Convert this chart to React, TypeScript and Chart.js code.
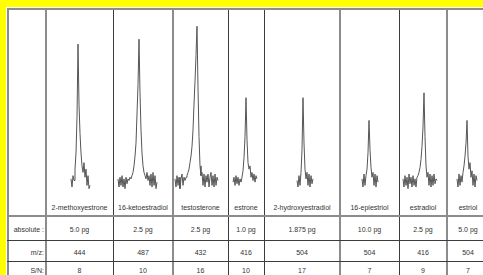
import React, { useEffect, useRef } from "react";
import { Chart, registerables } from "chart.js";

Chart.register(...registerables);

// ---------- data ----------
const compounds = [
  "2-methoxyestrone",
  "16-ketoestradiol",
  "testosterone",
  "estrone",
  "2-hydroxyestradiol",
  "16-epiestriol",
  "estradiol",
  "estriol",
];
const absoluteAmounts = ["5.0 pg", "2.5 pg", "2.5 pg", "1.0 pg", "1.875 pg", "10.0 pg", "2.5 pg", "5.0 pg"];
const mzValues = ["444", "487", "432", "416", "504", "504", "416", "504"];
const snValues = ["8", "10", "16", "10", "17", "7", "9", "7"];
const rowLabels = ["absolute :", "m/z:", "S/N:"];

// first scan number of each trace within its column window
const firstScan = [25, 5, 2, 5, 33, 22, 4, 10];

// relative intensity (%) per scan
const methoxyestroneTrace = [2, -3, 4, 1, 8, 18, 40, 85, 48, 30, 18, 10, 6, 12, 3, 8, -2, 4, -4, -2];
const ketoestradiolTrace = [2, -3, 3, -2, 4, -3, 2, -4, 3, -1, 2, 1, 3, 2, 4, 6, 10, 16, 24, 42, 60, 88, 55, 32, 18, 10, 6, 4, 2, 6, 1, 4, -2, 5, -3, 6, -2, 4, -4, 0];
const testosteroneTrace = [2, -3, 4, -2, 3, -4, 2, 5, -2, 3, 1, 3, 4, 6, 8, 12, 16, 22, 32, 48, 62, 78, 96, 58, 28, 10, 4, 6, -2, 5, -3, 4, 0, 5, -3, 3, 6, -2, 4, -3, 5, -2, 3, 1];
const estroneTrace = [0, 3, -2, 4, -1, 3, -2, 2, 0, 3, 7, 15, 28, 52, 26, 12, 8, 10, 3, 6, 1, 5, 0, 4, 2];
const hydroxyestradiolTrace = [1, -3, 4, -2, 6, 20, 52, 24, 8, 2, 6, -2, 5, -3, 4, -1, 2];
const epiestriolTrace = [2, -3, 5, -2, 4, 8, 18, 38, 20, 9, 3, 6, -2, 5, -3, 4, 0];
const estradiolTrace = [2, -3, 4, -2, 3, -4, 5, -1, 3, -3, 4, -2, 2, -3, 3, 4, 6, 9, 14, 22, 34, 55, 28, 10, 3, 6, -2, 5, -3, 4, -2, 5, -1, 2, 1];
const estriolTrace = [2, -3, 5, -2, 4, 0, 6, 10, 16, 24, 38, 16, 8, 12, 3, 7, -2, 5, -3, 4, 1];

const traces = [
  methoxyestroneTrace,
  ketoestradiolTrace,
  testosteroneTrace,
  estroneTrace,
  hydroxyestradiolTrace,
  epiestriolTrace,
  estradiolTrace,
  estriolTrace,
];

// ---------- layout ----------
const colEdges = [7, 46, 113, 173, 228, 264, 340, 399, 447, 489];
const GRAY = "#8c8c8c";
const DARK = "#3c3c3c";
const vLines = [
  { x: 7, w: 2, c: GRAY },
  { x: 45, w: 2, c: GRAY },
  { x: 113, w: 1, c: DARK },
  { x: 172, w: 2, c: GRAY },
  { x: 228, w: 1, c: DARK },
  { x: 264, w: 1, c: DARK },
  { x: 339, w: 2, c: GRAY },
  { x: 399, w: 1, c: DARK },
  { x: 446, w: 2, c: GRAY },
];
const hLines = [
  { y: 8, h: 2, c: GRAY },
  { y: 215, h: 2, c: GRAY },
  { y: 240, h: 1, c: DARK },
  { y: 261, h: 1, c: DARK },
];
const CHART_TOP = 10;
const CHART_H = 190;
const FONT = "'Liberation Sans', Arial, sans-serif";

function Trace({ idx, left, width }: { idx: number; left: number; width: number }) {
  const ref = useRef<HTMLCanvasElement>(null);
  useEffect(() => {
    const pts = traces[idx].map((v, i) => ({ x: firstScan[idx] + i, y: v }));
    const chart = new Chart(ref.current as HTMLCanvasElement, {
      type: "line",
      data: {
        datasets: [
          {
            data: pts,
            borderColor: "#555555",
            borderWidth: 1,
            pointRadius: 0,
            tension: 0,
            fill: false,
          },
        ],
      },
      options: {
        animation: false,
        responsive: false,
        maintainAspectRatio: false,
        events: [],
        layout: { padding: 0 },
        plugins: { legend: { display: false }, tooltip: { enabled: false } },
        scales: {
          x: { type: "linear", display: false, min: 0, max: width },
          y: { type: "linear", display: false, min: -11, max: 106 },
        },
      },
    });
    return () => chart.destroy();
  }, [idx, width]);
  return (
    <canvas
      ref={ref}
      width={width}
      height={CHART_H}
      style={{ position: "absolute", left, top: CHART_TOP, width, height: CHART_H }}
    />
  );
}

function Txt({ left, width, cy, text, align }: { left: number; width: number; cy: number; text: string; align: "center" | "right" }) {
  return (
    <div
      style={{
        position: "absolute",
        left,
        width,
        top: cy - 5,
        height: 10,
        lineHeight: "10px",
        fontSize: 7,
        fontFamily: FONT,
        color: "#333333",
        textAlign: align,
        whiteSpace: "nowrap",
      }}
    >
      {text}
    </div>
  );
}

export default function App() {
  const rows = [absoluteAmounts, mzValues, snValues];
  const rowCy = [230, 252.5, 270.5];
  return (
    <div style={{ position: "fixed", left: 0, top: 0, right: 0, bottom: 0, background: "#ffff00", overflow: "hidden" }}>
      <div style={{ position: "absolute", left: 6, top: 7, width: 500, height: 300, background: "#ffffff" }} />
      {compounds.map((_, i) => (
        <Trace key={"t" + i} idx={i} left={colEdges[i + 1]} width={colEdges[i + 2] - colEdges[i + 1]} />
      ))}
      {compounds.map((name, i) => (
        <Txt key={"n" + i} left={colEdges[i + 1]} width={colEdges[i + 2] - colEdges[i + 1]} cy={208} text={name} align="center" />
      ))}
      {rowLabels.map((lab, r) => (
        <Txt key={"l" + r} left={7} width={37} cy={rowCy[r]} text={lab} align="right" />
      ))}
      {rows.map((vals, r) =>
        vals.map((v, i) => (
          <Txt key={"v" + r + "-" + i} left={colEdges[i + 1]} width={colEdges[i + 2] - colEdges[i + 1]} cy={rowCy[r]} text={v} align="center" />
        ))
      )}
      {vLines.map((l, i) => (
        <div key={"vl" + i} style={{ position: "absolute", left: l.x, top: 8, width: l.w, height: 300, background: l.c }} />
      ))}
      {hLines.map((l, i) => (
        <div key={"hl" + i} style={{ position: "absolute", left: 7, top: l.y, width: 500, height: l.h, background: l.c }} />
      ))}
    </div>
  );
}
